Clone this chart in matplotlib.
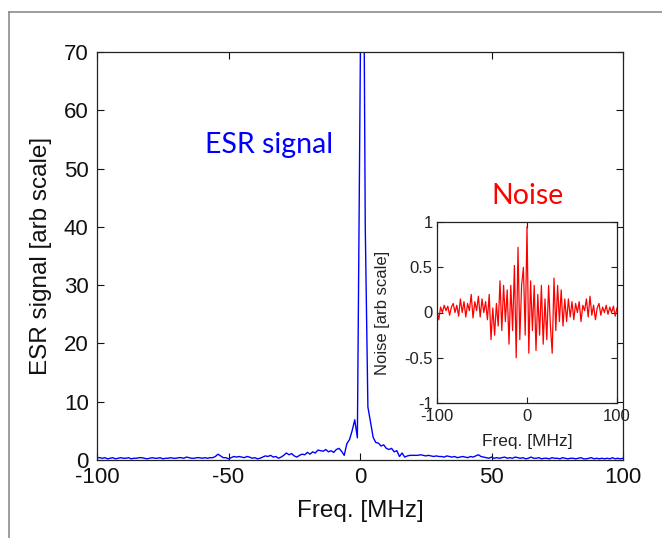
import numpy as np
import matplotlib
matplotlib.use("Agg")
import matplotlib.pyplot as plt
from matplotlib.lines import Line2D

plt.rcParams['font.family'] = ['Liberation Sans', 'DejaVu Sans']
plt.rcParams['axes.unicode_minus'] = False

# ============
# Donnees
# ============

# spectre ESR, pas de 1 MHz de -100 a 100
esr_freq = np.arange(-100, 101)
esr_signal = [
    0.4, 0.4, 0.3, 0.4, 0.2, 0.3, 0.4, 0.2, 0.3, 0.4,   # -100..-91
    0.3, 0.3, 0.4, 0.2, 0.3, 0.3, 0.4, 0.4, 0.3, 0.2,   # -90..-81
    0.3, 0.4, 0.3, 0.3, 0.4, 0.2, 0.3, 0.3, 0.4, 0.3,   # -80..-71
    0.3, 0.4, 0.4, 0.3, 0.5, 0.4, 0.3, 0.3, 0.4, 0.4,   # -70..-61
    0.3, 0.4, 0.3, 0.4, 0.4, 0.6, 1.0, 0.7, 0.4, 0.4,   # -60..-51
    0.2, 0.4, 0.6, 0.5, 0.6, 0.5, 0.4, 0.6, 0.5, 0.3,   # -50..-41
    0.4, 0.2, 0.3, 0.5, 0.7, 0.6, 0.8, 0.5, 0.6, 0.3,   # -40..-31
    0.5, 0.8, 1.2, 0.9, 1.1, 0.7, 0.5, 0.8, 1.0, 0.9,   # -30..-21
    1.3, 1.0, 1.4, 1.2, 1.7, 1.6, 1.5, 1.8, 1.4, 1.6,   # -20..-11
    1.3, 1.8, 2.0, 1.5, 0.8, 2.8, 3.5, 5.0, 6.9, 3.8,   # -10..-1
    61.0, 120.0, 40.0, 9.1, 6.5, 3.9, 3.0, 2.9, 2.4, 2.6, 2.0,  # 0..10
    1.8, 2.0, 1.4, 1.6, 0.6, 1.2, 0.5, 0.7, 0.8, 0.8,   # 11..20
    0.8, 0.8, 0.9, 0.8, 0.7, 0.8, 0.7, 0.6, 0.7, 0.6,   # 21..30
    0.6, 0.5, 0.7, 0.6, 0.5, 0.6, 0.4, 0.5, 0.6, 0.5,   # 31..40
    0.4, 0.6, 0.5, 0.7, 0.9, 0.6, 0.5, 0.4, 0.3, 0.5,   # 41..50
    0.3, 0.4, 0.3, 0.4, 0.5, 0.3, 0.4, 0.3, 0.5, 0.4,   # 51..60
    0.3, 0.4, 0.2, 0.3, 0.5, 0.3, 0.3, 0.4, 0.2, 0.3,   # 61..70
    0.3, 0.2, 0.4, 0.3, 0.3, 0.2, 0.4, 0.3, 0.2, 0.3,   # 71..80
    0.3, 0.2, 0.3, 0.4, 0.2, 0.2, 0.3, 0.4, 0.2, 0.3,   # 81..90
    0.2, 0.3, 0.2, 0.3, 0.2, 0.4, 0.2, 0.3, 0.2, 0.3,   # 91..100
]

# bruit (encart), pas de 2 MHz
noise_freq = np.arange(-100, 101, 2)
noise = [
    0.02, -0.08, 0.06, 0.0, 0.08, 0.02, 0.07, -0.03, 0.06, 0.1,      # -100..-82
    0.0, 0.08, -0.04, 0.15, 0.0, 0.12, -0.05, 0.1, 0.02, 0.2,        # -80..-62
    -0.06, 0.12, 0.02, 0.18, -0.05, 0.15, 0.0, 0.12, -0.08, 0.2,     # -60..-42
    -0.3, 0.05, -0.25, 0.1, -0.15, 0.35, -0.2, 0.3, -0.1, 0.25,      # -40..-22
    -0.35, 0.3, -0.2, 0.52, -0.5, 0.72, -0.3, 0.3, 0.5, -0.25,       # -20..-2
    0.95, -0.45, 0.35, -0.2, 0.3, -0.42, 0.2, -0.25, 0.3, -0.35,     # 0..18
    0.15, -0.3, 0.3, -0.15, -0.45, 0.38, -0.2, 0.3, -0.1, 0.25,      # 20..38
    -0.15, 0.15, -0.1, 0.15, -0.05, 0.12, -0.08, 0.1, 0.0, 0.12,     # 40..58
    -0.1, 0.08, 0.02, 0.15, -0.05, 0.18, -0.03, 0.08, -0.08, 0.05,   # 60..78
    0.1, -0.03, 0.06, 0.0, 0.08, -0.02, 0.06, 0.0, 0.07, -0.04, 0.05,  # 80..100
]

main_xticks = [-100, -50, 0, 50, 100]
main_yticks = [0, 10, 20, 30, 40, 50, 60, 70]
inset_xticks = [-100, 0, 100]
inset_yticks = [-1, -0.5, 0, 0.5, 1]
inset_ylabels = ['-1', '-0.5', '0', '0.5', '1']

W, H = 662, 538
fig = plt.figure(figsize=(W / 100, H / 100), dpi=100)

# cadre gris de la diapo
fig.add_artist(Line2D([9 / W, 9 / W], [0, 1 - 12 / H], color='#8c8c8c', lw=1.2))
fig.add_artist(Line2D([9 / W, 1], [1 - 12 / H, 1 - 12 / H], color='#8c8c8c', lw=1.2))

# ============
# Axe principal
# ============
ax = fig.add_axes([97 / W, 1 - 460 / H, 526 / W, 408 / H])
ax.plot(esr_freq, esr_signal, color='#0000ff', lw=1.0)
ax.set_xlim(-100, 100)
ax.set_ylim(0, 70)
ax.set_xticks(main_xticks)
ax.set_yticks(main_yticks)
ax.tick_params(direction='in', top=True, right=True, length=5, width=0.8,
               labelsize=16, colors='#111111')
ax.tick_params(axis='x', pad=5)
ax.tick_params(axis='y', pad=6)
for s in ax.spines.values():
    s.set_linewidth(0.9)
    s.set_color('#222222')
ax.set_xlabel('Freq. [MHz]', fontsize=17.5, color='#111111')
ax.set_ylabel('ESR signal [arb scale]', fontsize=17.5, color='#111111')
ax.xaxis.set_label_coords(0.5, -0.098)
ax.yaxis.set_label_coords(-0.086, 0.5)

fig.text(269 / W, 1 - 145 / H, 'ESR signal', fontsize=20.5,
         family=['Lato', 'DejaVu Sans'], color='#0000ff', ha='center', va='center')
fig.text(528 / W, 1 - 196 / H, 'Noise', fontsize=20.5,
         family=['Lato', 'DejaVu Sans'], color='#ff0000', ha='center', va='center')

# ============
# Encart bruit
# ============
ins = fig.add_axes([437 / W, 1 - 403 / H, 180 / W, 181 / H])
ins.plot(noise_freq, noise, color='#ff0000', lw=0.9)
ins.set_xlim(-100, 100)
ins.set_ylim(-1, 1)
ins.set_xticks(inset_xticks)
ins.set_yticks(inset_yticks)
ins.set_yticklabels(inset_ylabels)
ins.tick_params(direction='in', top=True, right=True, length=4, width=0.8,
                labelsize=12, colors='#222222')
ins.tick_params(axis='x', pad=4)
ins.tick_params(axis='y', pad=3)
for s in ins.spines.values():
    s.set_linewidth(0.9)
    s.set_color('#222222')
ins.set_xlabel('Freq. [MHz]', fontsize=12.5, color='#222222')
ins.set_ylabel('Noise [arb scale]', fontsize=12, color='#222222')
ins.xaxis.set_label_coords(0.5, -0.17)
ins.yaxis.set_label_coords(-0.26, 0.5)

fig.savefig('out.png', dpi=100)
